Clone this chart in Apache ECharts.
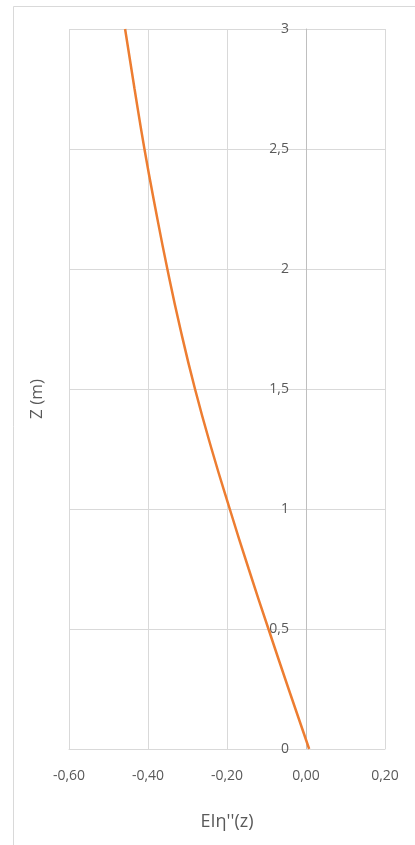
<!DOCTYPE html>
<html>
<head>
<meta charset="utf-8">
<script src="https://cdn.jsdelivr.net/npm/echarts@6/dist/echarts.min.js"></script>
<style>html,body{margin:0;padding:0;background:#fff;}#c{width:415px;height:845px;}</style>
</head>
<body>
<div id="c"></div>
<script>
const zValues = [0, 0.25, 0.5, 0.75, 1, 1.25, 1.5, 1.75, 2, 2.25, 2.5, 2.75, 3];
const momentValues = [0.008, -0.044, -0.095, -0.145, -0.193, -0.239, -0.281, -0.318, -0.351, -0.381, -0.409, -0.434, -0.458];
const xTicks = { min: -0.6, max: 0.2, interval: 0.2 };
const yTicks = { min: 0, max: 3, interval: 0.5 };
const xTitle = "EIη''(z)";
const yTitle = "Z (m)";

const chart = echarts.init(document.getElementById('c'));
const font = "'Open Sans', 'Liberation Sans', sans-serif";
chart.setOption({
  animation: false,
  backgroundColor: '#fff',
  grid: { left: 69, right: 30, top: 29, bottom: 96, containLabel: false },
  graphic: [
    { type: 'rect', shape: { x: 13.5, y: 6.5, width: 600, height: 1000 }, style: { fill: 'none', stroke: '#d9d9d9', lineWidth: 1 }, silent: true, z: -10 },
    { type: 'text', x: 37, y: 399, rotation: Math.PI / 2, style: { text: yTitle, fill: '#595959', font: '17px ' + font, align: 'center', verticalAlign: 'middle' } }
  ],
  xAxis: {
    type: 'value', min: xTicks.min, max: xTicks.max, interval: xTicks.interval,
    name: xTitle, nameLocation: 'middle', nameGap: 64,
    nameTextStyle: { color: '#595959', fontSize: 18, fontFamily: font },
    axisLine: { show: true, lineStyle: { color: '#d9d9d9' } },
    axisTick: { show: false },
    axisLabel: { color: '#595959', fontSize: 14, fontFamily: font, margin: 20,
      formatter: v => v.toFixed(2).replace('.', ',') },
    splitLine: { show: true, lineStyle: { color: '#d9d9d9', width: 1 } }
  },
  yAxis: {
    type: 'value', min: yTicks.min, max: yTicks.max, interval: yTicks.interval,
    position: 'left', offset: -237,
    axisLine: { show: true, onZero: false, lineStyle: { color: '#bfbfbf' } },
    axisTick: { show: false },
    axisLabel: { color: '#595959', fontSize: 14, fontFamily: font, margin: 17,
      formatter: v => String(+v.toFixed(2)).replace('.', ',') },
    splitLine: { show: true, lineStyle: { color: '#d9d9d9', width: 1 } }
  },
  series: [{
    type: 'line', smooth: true, symbol: 'none',
    lineStyle: { color: '#ED7D31', width: 2.5 },
    data: zValues.map((z, i) => [momentValues[i], z])
  }]
});
</script>
</body>
</html>
